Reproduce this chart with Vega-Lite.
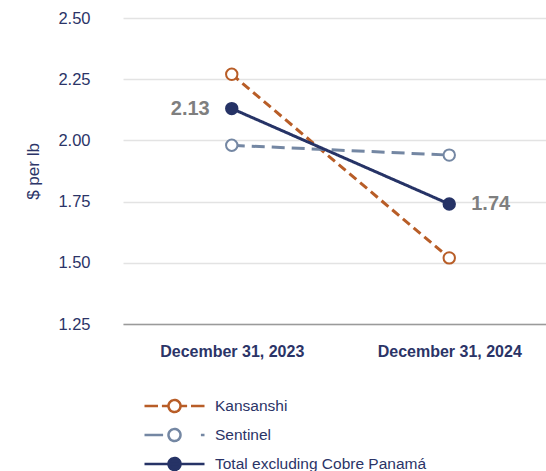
{
  "$schema": "https://vega.github.io/schema/vega-lite/v6.json",
  "autosize": "none",
  "width": 435,
  "height": 306,
  "padding": {"left": 123, "top": 18, "right": 0, "bottom": 147},
  "background": "#ffffff",
  "config": {
    "font": "Liberation Sans",
    "view": {"stroke": null}
  },
  "data": {
    "values": [
      {"date": "December 31, 2023", "series": "Kansanshi", "value": 2.27},
      {"date": "December 31, 2024", "series": "Kansanshi", "value": 1.52},
      {"date": "December 31, 2023", "series": "Sentinel", "value": 1.98},
      {"date": "December 31, 2024", "series": "Sentinel", "value": 1.94},
      {"date": "December 31, 2023", "series": "Total excluding Cobre Panamá", "value": 2.13},
      {"date": "December 31, 2024", "series": "Total excluding Cobre Panamá", "value": 1.74}
    ]
  },
  "encoding": {
    "x": {
      "field": "date",
      "type": "nominal",
      "sort": ["December 31, 2023", "December 31, 2024"],
      "scale": {"type": "point", "padding": 0.5},
      "axis": {
        "title": null,
        "labelAngle": 0,
        "labelFontWeight": "bold",
        "labelFontSize": 16,
        "labelColor": "#2b3467",
        "labelPadding": 19,
        "ticks": false,
        "grid": false,
        "domain": true,
        "domainColor": "#9a9a9a",
        "domainWidth": 1.5,
        "zindex": 1
      }
    },
    "y": {
      "field": "value",
      "type": "quantitative",
      "scale": {"domain": [1.25, 2.5], "nice": false, "zero": false},
      "axis": {
        "title": "$ per lb",
        "titleFontSize": 17,
        "titleFontWeight": "normal",
        "titleColor": "#2b3467",
        "titleAngle": -90,
        "titleX": -90,
        "titleY": 153,
        "titleAlign": "center",
        "titleBaseline": "middle",
        "values": [1.25, 1.5, 1.75, 2.0, 2.25, 2.5],
        "format": ".2f",
        "labelFontSize": 16.5,
        "labelColor": "#2b3467",
        "labelPadding": 33,
        "ticks": false,
        "domain": false,
        "grid": true,
        "gridColor": "#e3e3e3",
        "gridWidth": 1.5
      }
    }
  },
  "layer": [
    {
      "mark": {"type": "line", "strokeWidth": 3},
      "encoding": {
        "color": {
          "field": "series",
          "type": "nominal",
          "scale": {
            "domain": ["Kansanshi", "Sentinel", "Total excluding Cobre Panamá"],
            "range": ["#b85d27", "#7487a3", "#263366"]
          },
          "legend": {
            "title": null,
            "orient": "none",
            "legendX": 20,
            "legendY": 380,
            "direction": "vertical",
            "symbolSize": 3600,
            "symbolStrokeWidth": 2.5,
            "symbolDash": [1, 0],
            "clipHeight": 16,
            "labelFontSize": 15.5,
            "labelColor": "#2b3467",
            "labelOffset": 9,
            "labelLimit": 400,
            "rowPadding": 12,
            "encode": {
              "symbols": {
                "update": {
                  "shape": {"signal": "datum.value === 'Kansanshi' ? 'M-1,0H-0.55M-0.42,0H-0.22M0.2,0C0.2,0.1105 0.1105,0.2 0,0.2C-0.1105,0.2 -0.2,0.1105 -0.2,0C-0.2,-0.1105 -0.1105,-0.2 0,-0.2C0.1105,-0.2 0.2,-0.1105 0.2,0ZM0.22,0H0.42M0.55,0H1' : datum.value === 'Sentinel' ? 'M-1,0H-0.38M0.2,0C0.2,0.1105 0.1105,0.2 0,0.2C-0.1105,0.2 -0.2,0.1105 -0.2,0C-0.2,-0.1105 -0.1105,-0.2 0,-0.2C0.1105,-0.2 0.2,-0.1105 0.2,0ZM0.88,0H1' : 'M-1,0H1M0.2,0C0.2,0.1105 0.1105,0.2 0,0.2C-0.1105,0.2 -0.2,0.1105 -0.2,0C-0.2,-0.1105 -0.1105,-0.2 0,-0.2C0.1105,-0.2 0.2,-0.1105 0.2,0Z'"},
                  "fill": {"signal": "datum.value === 'Total excluding Cobre Panamá' ? '#263366' : '#ffffff'"},
                  "fillOpacity": {"value": 1},
                  "opacity": {"value": 1},
                  "strokeDash": {"value": [1, 0]},
                  "strokeWidth": {"value": 2.5}
                }
              }
            }
          }
        },
        "strokeDash": {
          "condition": [
            {"test": "datum.series === 'Total excluding Cobre Panamá'", "value": [1, 0]},
            {"test": "datum.series === 'Kansanshi'", "value": [9, 5]}
          ],
          "value": [13, 7]
        }
      }
    },
    {
      "mark": {"type": "point", "shape": "circle", "size": 130, "strokeWidth": 2, "filled": false, "opacity": 1},
      "encoding": {
        "color": {"field": "series", "type": "nominal"},
        "fill": {
          "field": "series",
          "type": "nominal",
          "scale": {
            "domain": ["Kansanshi", "Sentinel", "Total excluding Cobre Panamá"],
            "range": ["#ffffff", "#ffffff", "#263366"]
          },
          "legend": null
        }
      }
    },
    {
      "transform": [{"filter": "datum.series === 'Total excluding Cobre Panamá' && datum.date === 'December 31, 2023'"}],
      "mark": {"type": "text", "align": "right", "baseline": "middle", "dx": -22, "fontSize": 20, "fontWeight": "bold", "color": "#7f7f7f"},
      "encoding": {"text": {"field": "value", "type": "quantitative", "format": ".2f"}}
    },
    {
      "transform": [{"filter": "datum.series === 'Total excluding Cobre Panamá' && datum.date === 'December 31, 2024'"}],
      "mark": {"type": "text", "align": "left", "baseline": "middle", "dx": 22, "fontSize": 20, "fontWeight": "bold", "color": "#7f7f7f"},
      "encoding": {"text": {"field": "value", "type": "quantitative", "format": ".2f"}}
    }
  ]
}
